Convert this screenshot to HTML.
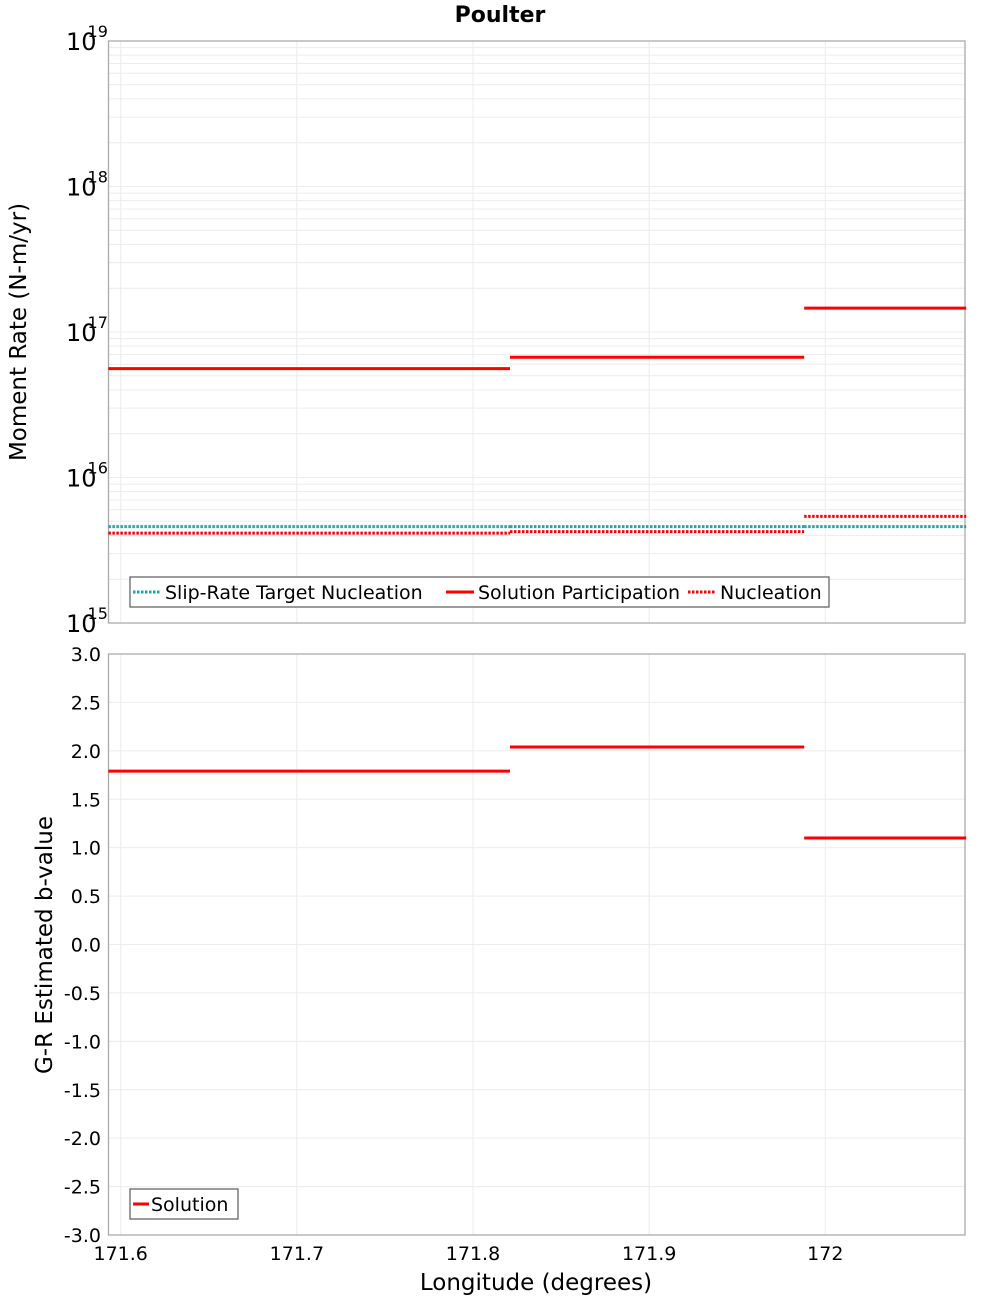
<!DOCTYPE html>
<html><head><meta charset="utf-8"><style>
body{margin:0;background:#fff;}
svg{display:block;font-family:"DejaVu Sans","Liberation Sans",sans-serif;}
</style></head><body>
<svg id="c" width="1000" height="1300" xmlns="http://www.w3.org/2000/svg"></svg>
<script>
const segStart=[171.593,171.821,171.988];
const segEnd=[171.821,171.988,172.08];
const solPart=[5.6e16,6.7e16,1.46e17];
const targetNuc=[4.6e15,4.6e15,4.6e15];
const nucleation=[4.15e15,4.25e15,5.4e15];
const bValues=[1.79,2.04,1.10];
const xTicks=[171.6,171.7,171.8,171.9,172.0];
const xTickLabels=["171.6","171.7","171.8","171.9","172"];
const logTicks=[15,16,17,18,19];
const bTicks=[-3,-2.5,-2,-1.5,-1,-0.5,0,0.5,1,1.5,2,2.5,3];

const NS="http://www.w3.org/2000/svg";
const svg=document.getElementById('c');
function el(t,a,p){const e=document.createElementNS(NS,t);for(const k in a)e.setAttribute(k,a[k]);(p||svg).appendChild(e);return e;}
const L=108.5,R=965;
const x=v=>120.7+(v-171.6)*1761.5;
const T1=41,B1=623,T2=654,B2=1235;
const yLog=v=>B1-(Math.log10(v)-15)*(B1-T1)/4;
const yB=v=>B2-(v+3)*(B2-T2)/6;

let t=el('text',{x:500,y:22,'text-anchor':'middle','font-size':22,'font-weight':'bold'});t.textContent='Poulter';



const g1=el('g',{});


for(let d=15;d<19;d++)for(let m=1;m<10;m++){const yy=yLog(m*Math.pow(10,d));el('line',{x1:L,x2:R,y1:yy,y2:yy,stroke:'#ececec','stroke-width':1},g1);}
const g2=el('g',{});


bTicks.forEach(v=>{const yy=yB(v);el('line',{x1:L,x2:R,y1:yy,y2:yy,stroke:'#ececec'},g2);});
xTicks.forEach(v=>{el('line',{x1:x(v),x2:x(v),y1:T1,y2:B1,stroke:'#ececec'},g1);el('line',{x1:x(v),x2:x(v),y1:T2,y2:B2,stroke:'#ececec'},g2);});

let f=el('rect',{x:L,y:T1,width:R-L,height:B1-T1,fill:'none',stroke:'#aaa','stroke-width':1.3});


f=el('rect',{x:L,y:T2,width:R-L,height:B2-T2,fill:'none',stroke:'#aaa','stroke-width':1.3});



logTicks.forEach(d=>{const yy=yLog(Math.pow(10,d));
 const tx=el('text',{x:66,y:yy+9,'font-size':24});
 
 
 tx.textContent='10';
 const s=el('tspan',{dx:-9,dy:-13,'font-size':16},tx);s.textContent=String(d);
});
bTicks.forEach(v=>{const tx=el('text',{x:101,y:yB(v)+7,'text-anchor':'end','font-size':19});tx.textContent=v.toFixed(1);
 
 });
xTicks.forEach((v,i)=>{const tx=el('text',{x:x(v),y:1260,'text-anchor':'middle','font-size':19});tx.textContent=xTickLabels[i];
 
 });

t=el('text',{x:0,y:0,'text-anchor':'middle','font-size':23,transform:'translate(26,332) rotate(-90)'});t.textContent='Moment Rate (N-m/yr)';


t=el('text',{x:0,y:0,'text-anchor':'middle','font-size':23,transform:'translate(52,945) rotate(-90)'});t.textContent='G-R Estimated b-value';


t=el('text',{x:536,y:1290,'text-anchor':'middle','font-size':23});t.textContent='Longitude (degrees)';



function seg(vals,yf,col,dash,name){
 vals.forEach((v,i)=>{const yy=yf(v);const a={x1:x(segStart[i]),x2:x(segEnd[i]),y1:yy,y2:yy,stroke:col,'stroke-width':3};if(dash)a['stroke-dasharray']=dash;
 const ln=el('line',a);
 
 });
}
seg(targetNuc,yLog,'#1aa8a8','2.5,1.5','target-nucleation');
seg(nucleation,yLog,'#f00','2.5,1.5','nucleation');
seg(solPart,yLog,'#f00',null,'solution-participation');
seg(bValues,yB,'#f00',null,'b-value');

const lg=el('g',{});


el('rect',{x:130,y:577,width:699,height:30,fill:'#fff',stroke:'#666','stroke-width':1.3},lg);
function entry(g,x0,col,dash,label,name){const a={x1:x0,x2:x0+28,y1:592,y2:592,stroke:col,'stroke-width':3};if(dash)a['stroke-dasharray']=dash;el('line',a,g);
 const tx=el('text',{x:x0+32,y:599,'font-size':19},g);tx.textContent=label;
 
 }
entry(lg,133,'#1aa8a8','2.5,1.5','Slip-Rate Target Nucleation','legend-target-nucleation');
entry(lg,446,'#f00',null,'Solution Participation','legend-solution-participation');
entry(lg,688,'#f00','2.5,1.5','Nucleation','legend-nucleation');
const lg2=el('g',{});


el('rect',{x:130,y:1189,width:108,height:30,fill:'#fff',stroke:'#666','stroke-width':1.3},lg2);
el('line',{x1:133,x2:149,y1:1204,y2:1204,stroke:'#f00','stroke-width':3},lg2);
t=el('text',{x:151,y:1211,'font-size':19},lg2);t.textContent='Solution';


</script>
</body></html>
